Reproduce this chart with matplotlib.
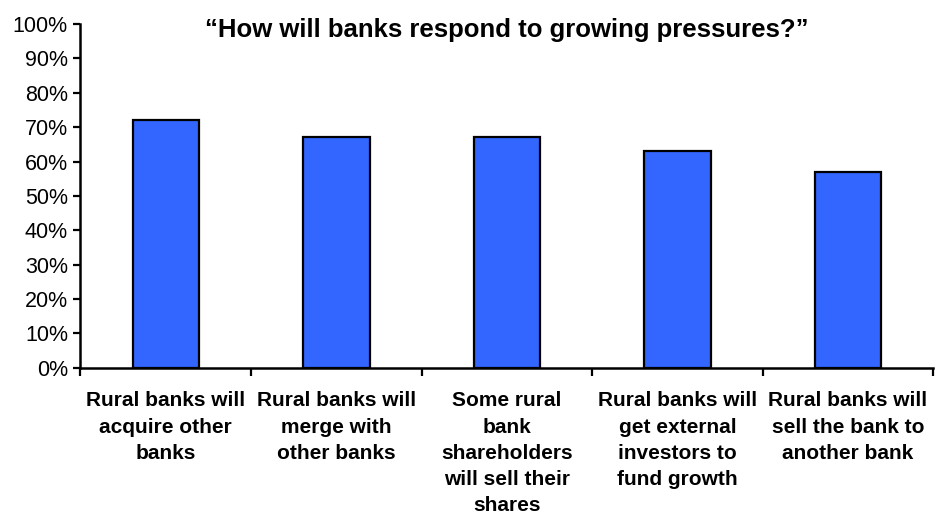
import matplotlib.pyplot as plt
import numpy as np

# survey answers, share of respondents
categories = [
    "Rural banks will\nacquire other\nbanks",
    "Rural banks will\nmerge with\nother banks",
    "Some rural\nbank\nshareholders\nwill sell their\nshares",
    "Rural banks will\nget external\ninvestors to\nfund growth",
    "Rural banks will\nsell the bank to\nanother bank",
]
values = [72, 67, 67, 63, 57]
yticks = list(range(0, 101, 10))
title = "\u201cHow will banks respond to growing pressures?\u201d"

plt.rcParams['font.family'] = ['Liberation Sans', 'DejaVu Sans']

fig = plt.figure(figsize=(9.36, 5.21), dpi=100)
ax = fig.add_axes([0.086, 0.294, 0.911, 0.66])

x = np.arange(len(categories))
ax.bar(x, values, width=0.39, color='#3366FF', edgecolor='black', linewidth=1.6)

ax.set_ylim(0, 100)
ax.set_xlim(-0.5, len(categories) - 0.5)
ax.set_yticks(yticks)
ax.set_yticklabels([f"{v}%" for v in yticks], fontsize=15.5)

# labels in the middle, tick marks at the category borders
ax.set_xticks(x)
ax.set_xticklabels(categories, fontsize=15, fontweight='bold', linespacing=1.48)
ax.set_xticks(np.arange(-0.5, len(categories), 1.0), minor=True)
ax.tick_params(axis='x', which='major', length=0, pad=17)
ax.tick_params(axis='x', which='minor', length=6, width=1.6, direction='out')
ax.tick_params(axis='y', length=5, width=1.6, direction='out', pad=4)

for s in ['top', 'right']:
    ax.spines[s].set_visible(False)
for s in ['left', 'bottom']:
    ax.spines[s].set_linewidth(1.8)

fig.text(0.541, 0.942, title, ha='center', va='center', fontsize=18.5, fontweight='bold')

plt.savefig("out.png", dpi=100)
